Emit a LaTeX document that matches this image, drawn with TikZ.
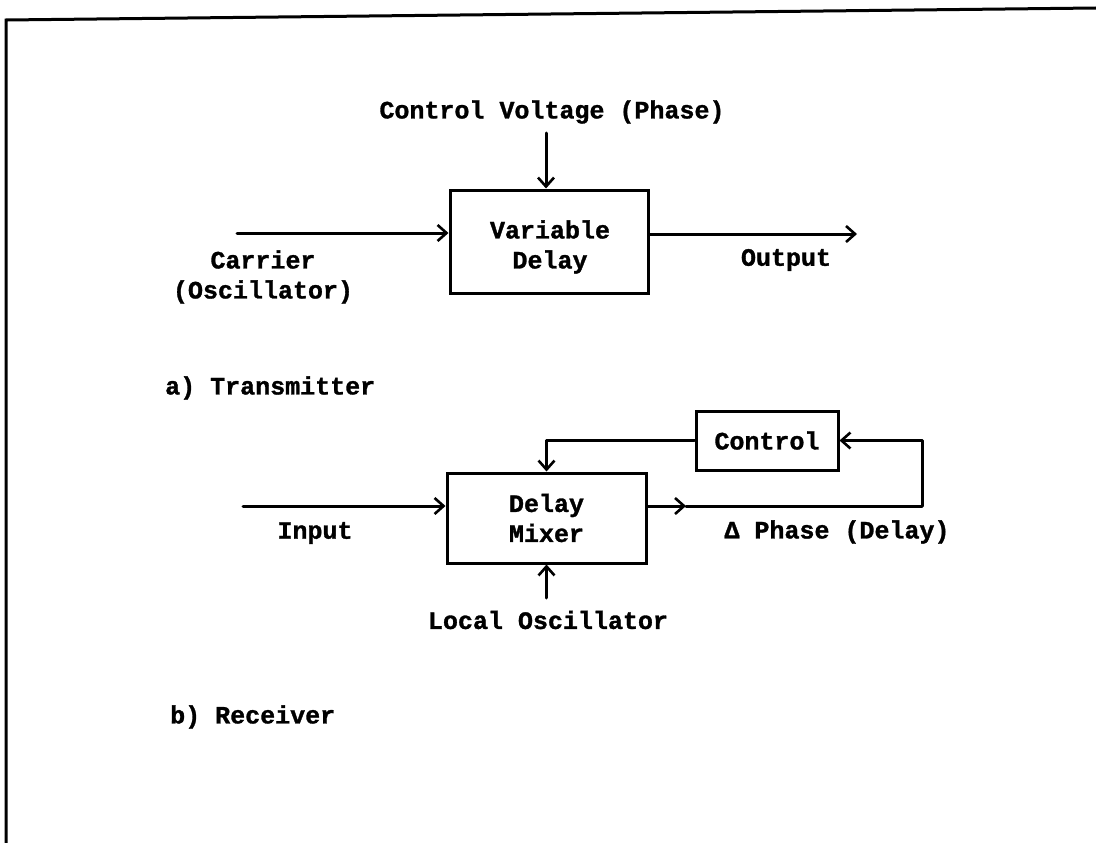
\documentclass[tikz,border=0pt]{standalone}
\usepackage{fontspec}
\setmainfont{Liberation Mono}[BoldFeatures={FakeBold=1.2}]
\usetikzlibrary{arrows.meta}
\begin{document}
\begin{tikzpicture}[x=1pt,y=-1pt,
  ln/.style={line width=3pt,line cap=round,line join=round},
  arr/.style={ln,-{Straight Barb[length=9pt,width=16pt,line width=2.6pt]}},
  blk/.style={draw,line width=3pt,inner sep=0pt},
  txt/.style={font=\fontsize{25}{30}\selectfont\bfseries,inner sep=0pt,align=center}]
\useasboundingbox (0,0) rectangle (1096,843);
\fill[white] (0,0) rectangle (1096,843);
% frame
\coordinate (fTL) at (6,20);
\coordinate (fTR) at (1096,8);
\coordinate (fBL) at (6,843);
\draw[line width=3pt] (fTR) -- (fTL) -- (fBL);
% ---- transmitter ----
\node[blk,minimum width=198pt,minimum height=103pt] (vd) at (549,241.5) {};
\node[txt] (vdt) at (550,247) {Variable\\Delay};
\node[txt] (cv) at (552,112) {Control Voltage (Phase)};
\coordinate (cvS) at (546,133);
\draw[arr] (cvS) -- (cvS |- vd.north);
\coordinate (cin) at (237,233);
\draw[arr] (cin) -- (cin -| vd.west);
\coordinate (cout) at (857,234);
\draw[arr] (cout -| vd.east) -- (cout);
\node[txt] (car) at (263,277) {Carrier\\(Oscillator)};
\node[txt] (out) at (786,260) {Output};
\node[txt,anchor=west] (ta) at (165,388) {a) Transmitter};
% ---- receiver ----
\node[blk,minimum width=199pt,minimum height=90pt,txt] (mix) at (546.5,518) {Delay\\Mixer};
\node[blk,minimum width=142pt,minimum height=59pt,txt] (ctl) at (767,440.5) {Control};
\coordinate (rin) at (243,506);
\draw[arr] (rin) -- (rin -| mix.west);
\coordinate (rmid) at (686,506);
\coordinate (rR) at (922,506);
\draw[arr] (rin -| mix.east) -- (rmid);
\draw[ln] (rmid) -- (rR);
\draw[arr] (rR) |- (ctl.east);
\draw[arr] (ctl.west) -| (mix.north);
\coordinate (loS) at (546.5,598);
\draw[arr] (loS) -- (mix.south);
\node[txt] (inp) at (315,533) {Input};
\node[txt] (dph) at (837,532) {Δ Phase (Delay)};
\node[txt] (lo) at (548,620) {Local Oscillator};
\node[txt,anchor=west] (rb) at (170,717) {b) Receiver};
\end{tikzpicture}
\end{document}
